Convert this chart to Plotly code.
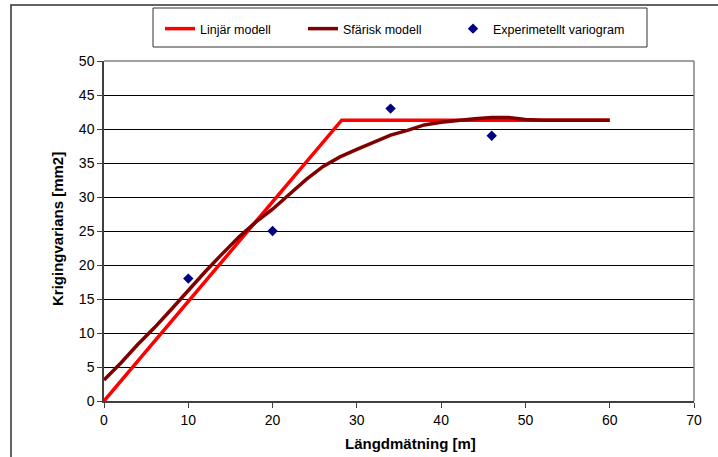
import plotly.graph_objects as go

# Data
lin_x = [0, 28.2, 60]
lin_y = [0, 41.3, 41.3]

sph_x = [0, 2, 4, 6, 8, 10, 12, 14, 16, 18, 20, 22, 24, 26, 28, 30, 32, 34, 36, 38, 40, 42, 44, 46, 48, 50, 52, 56, 60]
sph_y = [3.1, 5.6, 8.3, 10.8, 13.5, 16.3, 19.0, 21.6, 24.1, 26.3, 28.2, 30.4, 32.6, 34.5, 35.9, 37.0, 38.1, 39.1, 39.8, 40.6, 41.0, 41.3, 41.5, 41.7, 41.7, 41.4, 41.3, 41.3, 41.3]

exp_x = [10, 20, 34, 46]
exp_y = [18, 25, 43, 39]

x_ticks = [0, 10, 20, 30, 40, 50, 60, 70]
y_ticks = [0, 5, 10, 15, 20, 25, 30, 35, 40, 45, 50]

W, H = 718, 457
L, R, T, B = 104, 694, 61, 401

def px(xp):
    return (xp - L) / (R - L)

def py(yp):
    return (B - yp) / (B - T)

fig = go.Figure()
fig.add_trace(go.Scatter(x=lin_x, y=lin_y, mode="lines", name="Linjär modell",
                         line=dict(color="#FF0000", width=3.5), legendwidth=98))
fig.add_trace(go.Scatter(x=sph_x, y=sph_y, mode="lines", name="Sfärisk modell",
                         line=dict(color="#800000", width=3.5), legendwidth=105))
fig.add_trace(go.Scatter(x=exp_x, y=exp_y, mode="markers", name="Experimetellt variogram",
                         marker=dict(symbol="diamond", color="#000080", size=8)))

font = "Arial, 'Liberation Sans', sans-serif"

fig.update_layout(
    width=W, height=H,
    margin=dict(l=L, r=W - R, t=T, b=H - B),
    paper_bgcolor="white", plot_bgcolor="white",
    font=dict(family=font, color="black", size=14),
    showlegend=True,
    legend=dict(orientation="h", x=px(160), y=py(14), xanchor="left", yanchor="top",
                font=dict(size=12.5, family=font), bgcolor="rgba(0,0,0,0)",
                borderwidth=0),
    xaxis=dict(range=[0, 70], tickvals=x_ticks, showgrid=False, zeroline=False,
               showline=True, linecolor="#404040", linewidth=1.5,
               ticks="outside", ticklen=5, tickcolor="#404040", tickwidth=1,
               tickfont=dict(size=14), fixedrange=True),
    yaxis=dict(range=[0, 50], tickvals=y_ticks, showgrid=True, gridcolor="#000000",
               gridwidth=1, zeroline=False,
               showline=True, linecolor="#404040", linewidth=1.5,
               ticks="outside", ticklen=5, tickcolor="#404040", tickwidth=1,
               tickfont=dict(size=14), fixedrange=True),
    annotations=[
        dict(text="<b>Längdmätning [m]</b>", x=px(410), y=py(443), xref="paper", yref="paper",
             showarrow=False, font=dict(size=15), xanchor="center", yanchor="middle"),
        dict(text="<b>Krigingvarians [mm2]</b>", x=px(57), y=py(229), xref="paper", yref="paper",
             showarrow=False, font=dict(size=15), textangle=-90, xanchor="center", yanchor="middle"),
    ],
    shapes=[
        # outer chart frame
        dict(type="rect", xref="paper", yref="paper", x0=px(11), y0=py(470), x1=px(740), y1=py(5),
             line=dict(color="#303030", width=1.5), layer="above"),
        # legend box
        dict(type="rect", xref="paper", yref="paper", x0=px(153), y0=py(47), x1=px(647), y1=py(8),
             line=dict(color="#303030", width=1), layer="above"),
        # plot area top / right borders
        dict(type="line", xref="paper", yref="paper", x0=0, y0=1, x1=1, y1=1,
             line=dict(color="#808080", width=1.5), layer="above"),
        dict(type="line", xref="paper", yref="paper", x0=1, y0=0, x1=1, y1=1,
             line=dict(color="#808080", width=1.5), layer="above"),
    ],
)

fig.write_html("out.html")
